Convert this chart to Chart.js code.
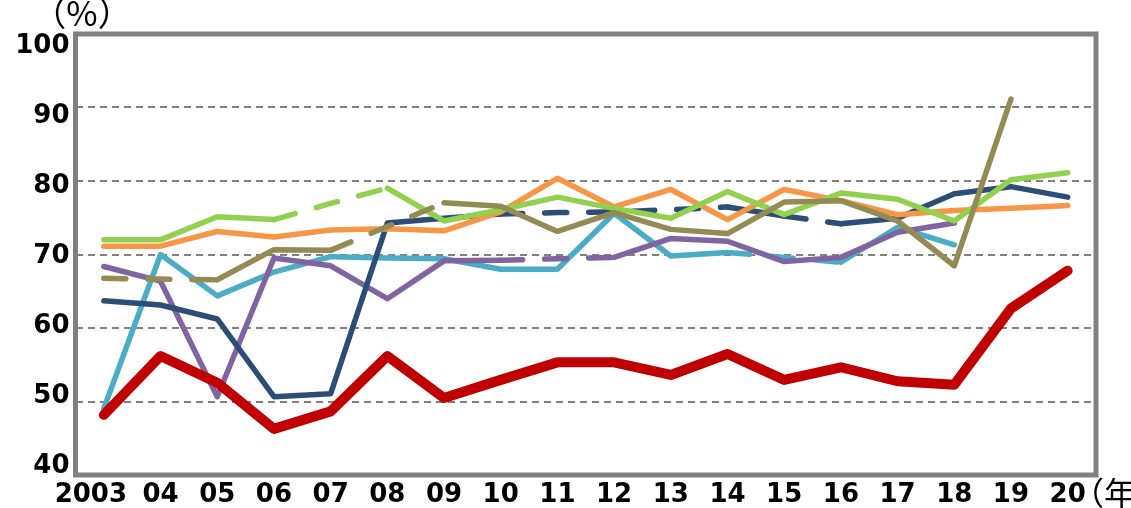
<!DOCTYPE html>
<html>
<head>
<meta charset="utf-8">
<script src="https://cdn.jsdelivr.net/npm/chart.js@4"></script>
<style>
  html, body { margin: 0; padding: 0; background: #fff; }
  #wrap { width: 1131px; height: 508px; }
</style>
</head>
<body>
<div id="wrap"><canvas id="myChart"></canvas></div>
<script>
'use strict';

// data
let years = ['2003', '04', '05', '06', '07', '08', '09', '10', '11', '12', '13', '14', '15', '16', '17', '18', '19', '20'];
let yTicks = [40, 50, 60, 70, 80, 90, 100];

let redLine = [47.3, 55.7, 51.9, 45.3, 47.8, 55.7, 49.7, 52.3, 54.8, 54.8, 53.0, 56.0, 52.3, 54.1, 52.1, 51.6, 62.5, 67.9];
let oliveLine = [66.8, 66.7, 66.6, 70.9, 70.8, 74.2, 77.6, 77.1, 73.5, 76.2, 73.8, 73.2, 77.7, 77.9, 75.0, 68.6, 92.4, null];
let greenLine = [72.3, 72.3, 75.6, 75.2, 77.5, 79.7, 75.0, 76.6, 78.4, 76.8, 75.4, 79.2, 75.9, 79.0, 78.1, 75.0, 80.9, 81.9];
let orangeLine = [71.4, 71.4, 73.5, 72.7, 73.7, 73.9, 73.6, 76.3, 81.1, 77.0, 79.5, 75.2, 79.5, 77.9, 75.9, 76.5, 76.8, 77.2];
let navyLine = [63.6, 63.0, 61.0, 49.9, 50.3, 74.7, 75.4, 76.0, 76.2, 76.3, 76.6, 77.0, 75.7, 74.6, 75.4, 78.9, 79.9, 78.4];
let purpleLine = [68.5, 66.4, 49.9, 69.7, 68.6, 63.9, 69.3, 69.4, 69.6, 69.8, 72.5, 72.1, 69.2, 69.8, 73.4, 74.7, null, null];
let cyanLine = [48.2, 70.2, 64.3, 67.7, 69.9, 69.7, 69.6, 68.1, 68.1, 76.1, 70.0, 70.5, 69.8, 69.1, 74.1, 71.6, null, null];

// segments (by start index) that are drawn dashed
let oliveDashed = [0, 1, 4, 5];
let greenDashed = [3, 4];
let navyDashed = [7, 8, 9, 10, 12];
let purpleDashed = [7, 8];
let cyanDashed = [11, 12];

function makeLine(data, color, width, dashed = []) {
  return {
    data: data,
    borderColor: color,
    borderWidth: width,
    pointRadius: 0,
    pointHoverRadius: 0,
    tension: 0,
    fill: false,
    spanGaps: false,
    borderCapStyle: 'round',
    borderJoinStyle: 'round',
    segment: {
      borderDash: ctx => dashed.includes(ctx.p0DataIndex) ? [22, 22] : undefined
    }
  };
}

let frameAndText = {
  id: 'frameAndText',
  beforeDatasetsDraw(chart) {
    let a = chart.chartArea;
    let ctx = chart.ctx;
    ctx.save();
    ctx.strokeStyle = '#808080';
    ctx.lineWidth = 5;
    ctx.strokeRect(a.left, a.top, a.right - a.left, a.bottom - a.top);
    ctx.restore();
  },
  afterDraw(chart) {
    let ctx = chart.ctx;
    ctx.save();
    ctx.fillStyle = '#000';
    ctx.font = '34px "Noto Sans CJK JP"';
    ctx.textBaseline = 'middle';
    ctx.textAlign = 'center';
    ctx.fillText('（%）', 82, 13);
    ctx.font = '32px "Noto Sans CJK JP"';
    ctx.textAlign = 'left';
    ctx.fillText('（年）', 1072, 493);
    ctx.restore();
  }
};

let tickFont = { family: '"DejaVu Sans"', size: 26, weight: 'bold' };

let chartObject = {
  type: 'line',
  data: {
    labels: years,
    datasets: [
      makeLine(redLine, '#C00000', 10),
      makeLine(oliveLine, '#948A54', 5.5, oliveDashed),
      makeLine(greenLine, '#92D050', 5.5, greenDashed),
      makeLine(orangeLine, '#F79646', 5.5),
      makeLine(navyLine, '#2C4D75', 5.5, navyDashed),
      makeLine(purpleLine, '#8064A2', 5.5, purpleDashed),
      makeLine(cyanLine, '#4BACC6', 5.5, cyanDashed)
    ]
  },
  options: {
    responsive: true,
    maintainAspectRatio: false,
    animation: false,
    layout: { padding: { top: 34, right: 35, left: 0, bottom: 0 } },
    plugins: {
      legend: { display: false },
      tooltip: { enabled: false }
    },
    scales: {
      x: {
        type: 'category',
        offset: true,
        grid: { display: false, drawTicks: false },
        border: { display: false },
        ticks: {
          color: '#000',
          font: tickFont,
          padding: 5,
          maxRotation: 0,
          autoSkip: false,
          // first label sits a little left of its point, as in the original
          callback: (v, i) => i === 0 ? years[i] + '\u2002\u2002' : years[i]
        },
        afterFit: s => { s.height = 33; }
      },
      yLabels: {
        position: 'left',
        min: 38.71,
        max: 101.71,
        grid: { display: false, drawTicks: false },
        border: { display: false },
        afterBuildTicks: s => { s.ticks = yTicks.map(v => ({ value: v })); },
        ticks: { color: '#000', font: tickFont, padding: 6 },
        afterFit: s => { s.width = 75.5; }
      },
      y: {
        position: 'left',
        min: 40,
        max: 100,
        ticks: { stepSize: 10, display: false },
        grid: { color: '#808080', lineWidth: 2, drawTicks: false },
        border: { display: false, dash: [7, 5] },
        afterFit: s => { s.width = 0; }
      }
    }
  },
  plugins: [frameAndText]
};

let ctx = document.getElementById('myChart').getContext('2d');
let myChart = new Chart(ctx, chartObject);
</script>
</body>
</html>
